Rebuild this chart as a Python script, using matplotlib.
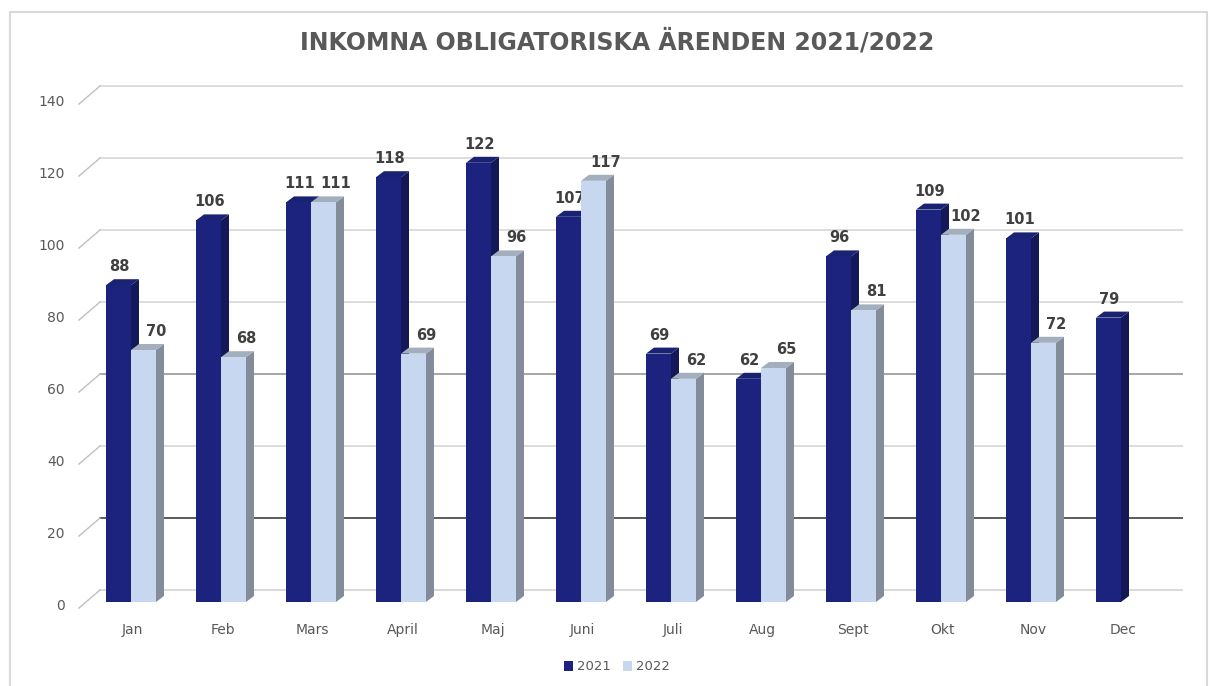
import matplotlib.pyplot as plt
import numpy as np
from matplotlib.patches import Polygon, Rectangle

# Data
months = ['Jan', 'Feb', 'Mars', 'April', 'Maj', 'Juni', 'Juli', 'Aug', 'Sept', 'Okt', 'Nov', 'Dec']
values_2021 = [88, 106, 111, 118, 122, 107, 69, 62, 96, 109, 101, 79]
values_2022 = [70, 68, 111, 69, 96, 117, 62, 65, 81, 102, 72, None]
y_ticks = [0, 20, 40, 60, 80, 100, 120, 140]
grid_colors = ['#d9d9d9', '#5a5a5a', '#dddddd', '#a6a6a6', '#dddddd', '#dddddd', '#dddddd', '#dddddd']

# colours: front, side, top
c2021 = ('#1b237f', '#121858', '#1a2272')
c2022 = ('#c6d7ef', '#828c9b', '#a4afbd')
text_grey = '#595959'

W, H = 1217, 686
fig = plt.figure(figsize=(W / 100, H / 100), dpi=100)

# axes placed so 1 category = 90 px and 1 unit = 3.6 px
px_l, px_r, px_t, px_b = 60, 1200, 70, 640
x0_px, y0_px, sx, sy = 131, 602, 90.0, 3.6
ax = fig.add_axes([px_l / W, (H - px_b) / H, (px_r - px_l) / W, (px_b - px_t) / H])
ax.set_xlim((px_l - x0_px) / sx, (px_r - x0_px) / sx)
ax.set_ylim((y0_px - px_b) / sy, (y0_px - px_t) / sy)
ax.axis('off')

w = 25 / sx          # bar front width
dx = 8 / sx          # bar depth
dy = 6 / sy
back_dy = 12 / sy    # wall offset
gx0 = (100 - x0_px) / sx
gx1 = (1182 - x0_px) / sx
diag_x0 = (79 - x0_px) / sx

# back wall gridlines + little diagonal ticks
for v, col in zip(y_ticks, grid_colors):
    ax.plot([gx0, gx1], [v + back_dy, v + back_dy], color=col, lw=1.4, zorder=1)
    ax.plot([diag_x0, gx0], [v + back_dy - 18 / sy, v + back_dy], color='#bfbfbf', lw=1.0, zorder=1)
    ax.text((65 - x0_px) / sx, v + back_dy - 16 / sy, str(v), ha='right', va='center',
            fontsize=10, color=text_grey)


def bar3d(x_left, v, cols, z, lab_off):
    x_right = x_left + w
    ax.add_patch(Polygon([(x_right, 0), (x_right + dx, dy), (x_right + dx, v + dy), (x_right, v)],
                         closed=True, fc=cols[1], ec='none', zorder=z))
    ax.add_patch(Polygon([(x_left, v), (x_left + dx, v + dy), (x_right + dx, v + dy), (x_right, v)],
                         closed=True, fc=cols[2], ec='none', zorder=z))
    ax.add_patch(Rectangle((x_left, 0), w, v, fc=cols[0], ec='none', zorder=z))
    ax.text(x_left + w / 2 + lab_off, v + dy + 5 / sy, str(v), ha='center', va='bottom',
            fontsize=10.5, fontweight='bold', color='#404040', zorder=z + 1)


for i, m in enumerate(months):
    z = 3 + i * 3
    bar3d(i - w, values_2021[i], c2021, z, 0.01)
    if values_2022[i] is not None:
        bar3d(i, values_2022[i], c2022, z + 1, 0.14)
    ax.text(i + 0.02, (y0_px - 630) / sy, m, ha='center', va='center', fontsize=10, color=text_grey)

fig.text(0.507, 1 - 42 / H, 'INKOMNA OBLIGATORISKA ÄRENDEN 2021/2022', ha='center', va='center',
         fontsize=17, fontweight='bold', color=text_grey)

handles = [Rectangle((0, 0), 1, 1, fc=c2021[0]), Rectangle((0, 0), 1, 1, fc=c2022[0])]
fig.legend(handles, ['2021', '2022'], loc='center', bbox_to_anchor=(0.507, 1 - 667 / H), ncol=2,
           frameon=False, fontsize=9.5, handlelength=0.7, handleheight=0.7, handletextpad=0.3,
           columnspacing=0.9, labelcolor=text_grey)

# outer chart border
fig.add_artist(Rectangle((10 / W, -0.01), (1207 - 10) / W, 1 - 12 / H + 0.01, transform=fig.transFigure,
                         fill=False, ec='#d9d9d9', lw=1.5))

plt.savefig('out.png', dpi=100)
